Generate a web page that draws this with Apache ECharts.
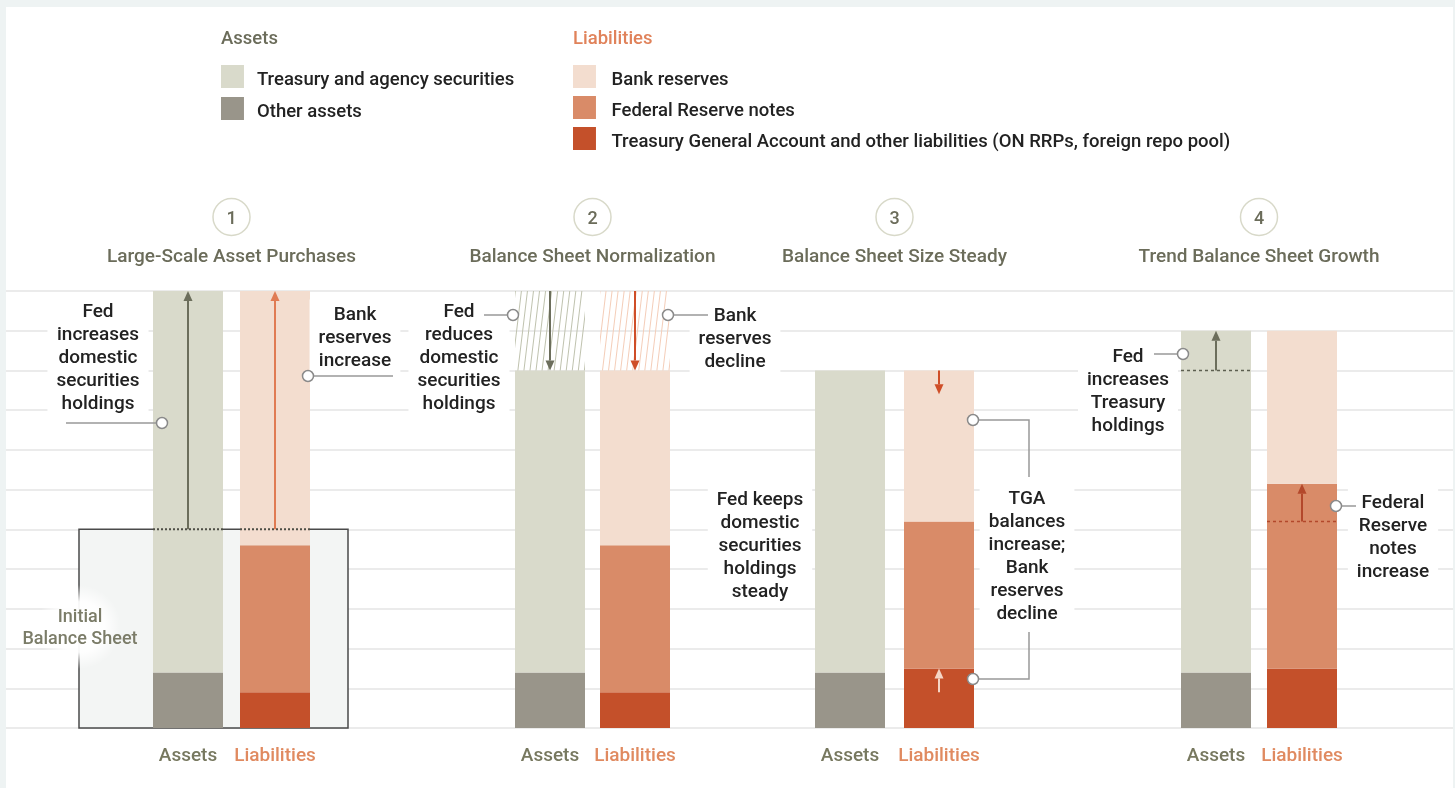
<!DOCTYPE html>
<html><head><meta charset="utf-8">
<script src="https://cdn.jsdelivr.net/npm/echarts@6/dist/echarts.min.js"></script>
<style>html,body{margin:0;padding:0;background:#eef3f3;}#c{width:1455px;height:788px;}</style>
</head><body><div id="c"></div>
<script>
// ---------- data ----------
const panelTitles = ['Large-Scale Asset Purchases','Balance Sheet Normalization','Balance Sheet Size Steady','Trend Balance Sheet Growth'];
const categories = ['Assets','Liabilities'];
const otherAssets = [1.4, 1.4, 1.4, 1.4];
const treasury    = [9.6, 7.6, 7.6, 8.6];
const tga         = [0.9, 0.9, 1.5, 1.5];
const frNotes     = [3.7, 3.7, 3.7, 4.65];
const reserves    = [6.4, 4.4, 3.8, 3.85];
const runoff      = [0, 2, 0, 0];   // hatched reduction shown in panel 2
const initialSize = 5;              // initial balance sheet size (panel 1)
const yMax = 11;

// ---------- style ----------
const FONT = 'Roboto, "Noto Sans", sans-serif';
const NAMES = {
  treasury:'Treasury and agency securities', other:'Other assets',
  reserves:'Bank reserves', notes:'Federal Reserve notes',
  tga:'Treasury General Account and other liabilities (ON RRPs, foreign repo pool)'
};
const COL = {treasury:'#d9dacb', other:'#99958a', reserves:'#f3ddcf', notes:'#d98b68', tga:'#c4502a'};
const gridLayout = [[144.5,174],[507.5,170],[805.5,178],[1173,172]];

const grids = [{left:6, right:2, top:291, bottom:60}];
const xAxes = [{gridIndex:0, type:'value', show:false, min:0, max:1}];
const yAxes = [{gridIndex:0, type:'value', min:0, max:yMax, interval:1,
  axisLabel:{show:false}, axisLine:{show:false}, axisTick:{show:false},
  splitLine:{lineStyle:{color:'#ebebeb', width:2}}}];
gridLayout.forEach(([l,w],i)=>{
  grids.push({left:l, width:w, top:291, bottom:60});
  xAxes.push({gridIndex:i+1, type:'category', data:categories,
    axisLine:{show:false}, axisTick:{show:false},
    axisLabel:{margin:19, formatter:v => v==='Assets' ? '{a|'+v+'}' : '{l|'+v+'}',
      rich:{a:{color:'#77785f', fontSize:19, fontWeight:500, fontFamily:FONT},
            l:{color:'#e08a60', fontSize:19, fontWeight:500, fontFamily:FONT}}}});
  yAxes.push({gridIndex:i+1, type:'value', min:0, max:yMax, show:false, splitLine:{show:false}});
});

const series = [];
for (let i=0;i<4;i++){
  const base = {type:'bar', xAxisIndex:i+1, yAxisIndex:i+1, stack:'s'+i, barWidth:70, z:5, silent:true};
  series.push({...base, name:NAMES.other, data:[otherAssets[i],'-'], itemStyle:{color:COL.other}});
  series.push({...base, name:NAMES.treasury, data:[treasury[i],'-'], itemStyle:{color:COL.treasury}});
  series.push({...base, name:NAMES.tga, data:['-',tga[i]], itemStyle:{color:COL.tga}});
  series.push({...base, name:NAMES.notes, data:['-',frNotes[i]], itemStyle:{color:COL.notes}});
  series.push({...base, name:NAMES.reserves, data:['-',reserves[i]], itemStyle:{color:COL.reserves}});
  if (runoff[i] > 0){
    const hatch = c => ({color:'rgba(0,0,0,0)', decal:{symbol:'rect', symbolSize:1, dashArrayX:[1,4.7], dashArrayY:[1,0], rotation:0.12, color:c}});
    series.push({...base, name:'Runoff', data:[
      {value:runoff[i], itemStyle:hatch('#bfc2ae')},
      {value:runoff[i], itemStyle:hatch('#f4cdb8')}]});
  }
}

// legend swatch drawn at the top of a taller icon box so the text sits a little lower, as in the original
const swatchIcon = 'path://M0,0H23V23H0Z M0,31H0.05V31.05H0Z';
const legendText = {fontSize:18.5, fontFamily:FONT, color:'#222', fontWeight:500};
const option = {
  animation:false,
  backgroundColor:'#eef3f3',
  grid:grids, xAxis:xAxes, yAxis:yAxes, series:series,
  legend:[
    {data:[NAMES.treasury, NAMES.other], left:221, top:65, padding:0, orient:'vertical', icon:swatchIcon,
     itemWidth:23, itemHeight:31, itemGap:1, selectedMode:false,
     textStyle:{...legendText, padding:[0,0,0,8]}},
    {data:[NAMES.reserves, NAMES.notes, NAMES.tga], left:573, top:65, padding:0, orient:'vertical', icon:swatchIcon,
     itemWidth:24, itemHeight:31, itemGap:0, selectedMode:false,
     textStyle:{...legendText, padding:[0,0,0,10]}}
  ]
};
const chart = echarts.init(document.getElementById('c'), null, {renderer:'canvas'});
chart.setOption(option);

// ---------- annotations placed through the axes ----------
const P = (i,cat,v) => chart.convertToPixel({xAxisIndex:i+1, yAxisIndex:i+1}, [cat, v]);
const Y = (i,v) => P(i,0,v)[1];
const CX = (i,cat) => P(i,cat,0)[0];
const HW = 35;
const G = [];
G.push({type:'rect', shape:{x:6,y:7,width:1447,height:781}, style:{fill:'#fff'}, z:-10, silent:true});
const line = (x1,y1,x2,y2,color,w,dash,z) => G.push({type:'line', shape:{x1,y1,x2,y2}, style:{stroke:color, lineWidth:w||2, lineDash:dash||null}, z:z||10, silent:true});
const arrow = (x,y0,y1,color) => {
  const dir = y1>y0 ? 1 : -1, b = y1 - dir*10;
  line(x,y0,x,b,color,2);
  G.push({type:'polygon', shape:{points:[[x-4.5,b],[x+4.5,b],[x,y1]]}, style:{fill:color}, z:10, silent:true});
};
const dot = (x,y) => G.push({type:'circle', shape:{cx:x,cy:y,r:5.5}, style:{fill:'#fff', stroke:'#8a8a8a', lineWidth:1.5}, z:12, silent:true});
const lead = (pts) => G.push({type:'polyline', shape:{points:pts}, style:{stroke:'#999', lineWidth:1.5, fill:null}, z:11, silent:true});
const note = (x,y,t) => G.push({type:'text', style:{text:t, x, y:y+2, align:'center', verticalAlign:'middle',
  font:'500 19px '+FONT, fill:'#222', lineHeight:23, backgroundColor:'#fff', padding:[4,9]}, z:9, silent:true});

// headers
G.push({type:'text', style:{text:'Assets', x:221, y:39, verticalAlign:'middle', font:'500 18.5px '+FONT, fill:'#6b6c5a'}, z:10});
G.push({type:'text', style:{text:'Liabilities', x:573, y:39, verticalAlign:'middle', font:'500 18.5px '+FONT, fill:'#e0825a'}, z:10});
for (let i=0;i<4;i++){
  const cx = (CX(i,0)+CX(i,1))/2;
  G.push({type:'circle', shape:{cx, cy:217, r:18.5}, style:{fill:'#fff', stroke:'#d8d9c9', lineWidth:1.5}, z:10, silent:true});
  G.push({type:'text', style:{text:String(i+1), x:cx, y:219, align:'center', verticalAlign:'middle', font:'500 18px '+FONT, fill:'#6b6c5a'}, z:11});
  G.push({type:'text', style:{text:panelTitles[i], x:cx, y:257, align:'center', verticalAlign:'middle', font:'500 19px '+FONT, fill:'#6b6c5a'}, z:11});
}

// panel 1
{
  const a = CX(0,0), l = CX(0,1), y0 = Y(0,0), yi = Y(0,initialSize), yt = Y(0,otherAssets[0]+treasury[0]);
  const bx0 = a-109, bx1 = l+73;
  G.push({type:'rect', shape:{x:bx0, y:yi, width:bx1-bx0, height:y0-yi}, style:{fill:'#f3f5f4'}, z:1, silent:true});
  G.push({type:'polyline', shape:{points:[[bx0,667],[bx0,yi],[bx1,yi],[bx1,y0],[bx0,y0],[bx0,595]]}, style:{stroke:'#4a4a4a', lineWidth:1.5, fill:null}, z:2, silent:true});
  G.push({type:'rect', shape:{x:bx0-75, y:585, width:150, height:84}, style:{fill:{type:'radial', x:0.5, y:0.5, r:0.5,
    colorStops:[{offset:0,color:'rgba(255,255,255,1)'},{offset:0.6,color:'rgba(255,255,255,0.95)'},{offset:1,color:'rgba(255,255,255,0)'}]}}, z:3, silent:true});
  G.push({type:'text', style:{text:'Initial\nBalance Sheet', x:bx0+1, y:628, align:'center', verticalAlign:'middle', font:'500 18px '+FONT, fill:'#7b7c68', lineHeight:22}, z:4});
  line(a-HW,yi,a+HW,yi,'#4d4d45',2,[2,2]);
  line(l-HW,yi,l+HW,yi,'#4d4d45',2,[2,2]);
  arrow(a, yi, yt, '#6c6e5c');
  arrow(l, yi, Y(0,tga[0]+frNotes[0]+reserves[0]), '#e07b53');
  note(98, 356, 'Fed\nincreases\ndomestic\nsecurities\nholdings');
  lead([[66,423],[a-HW+9,423]]); dot(a-HW+9,423);
  note(355, 336, 'Bank\nreserves\nincrease');
  lead([[l+HW-2,376],[393,376]]); dot(l+HW-2,376);
}
// panel 2
{
  const a = CX(1,0), l = CX(1,1), top = Y(1,otherAssets[1]+treasury[1]+runoff[1]), cur = Y(1,otherAssets[1]+treasury[1]);
  arrow(a, top, cur, '#6c6e5c');
  arrow(l, top, Y(1,tga[1]+frNotes[1]+reserves[1]), '#cf4e28');
  note(459, 356, 'Fed\nreduces\ndomestic\nsecurities\nholdings');
  lead([[484,315],[a-HW-2,315]]); dot(a-HW-2,315);
  note(735, 337, 'Bank\nreserves\ndecline');
  lead([[l+HW-2,315],[708,315]]); dot(l+HW-2,315);
}
note(760, 544, 'Fed keeps\ndomestic\nsecurities\nholdings\nsteady');
// panel 3
{
  const l = CX(2,1), rise = tga[2]-tga[1], top = tga[2]+frNotes[2]+reserves[2];
  arrow(l, Y(2,top), Y(2,top-rise), '#cf4e28');
  arrow(l, Y(2,tga[1]), Y(2,tga[2]), '#f5d6c6');
  note(1027, 555, 'TGA\nbalances\nincrease;\nBank\nreserves\ndecline');
  const r = l+HW-1;
  lead([[r,420],[1029,420],[1029,477]]); dot(r,420);
  lead([[1029,632],[1029,679],[r,679]]); dot(r,679);
}
// panel 4
{
  const a = CX(3,0), l = CX(3,1);
  const prevA = otherAssets[2]+treasury[2], prevN = tga[2]+frNotes[2];
  line(a-HW,Y(3,prevA),a+HW,Y(3,prevA),'#5d5f50',1.5,[3,3]);
  arrow(a, Y(3,prevA), Y(3,otherAssets[3]+treasury[3]), '#6c6e5c');
  line(l-HW,Y(3,prevN),l+HW,Y(3,prevN),'#b3482b',1.5,[3,3]);
  arrow(l, Y(3,prevN), Y(3,tga[3]+frNotes[3]), '#b3482b');
  note(1128, 390, 'Fed\nincreases\nTreasury\nholdings');
  lead([[1154,354],[a-HW+2,354]]); dot(a-HW+2,354);
  note(1393, 536, 'Federal\nReserve\nnotes\nincrease');
  lead([[l+HW-1,506],[1356,506]]); dot(l+HW-1,506);
}
chart.setOption({graphic:{elements:G}});
</script></body></html>
